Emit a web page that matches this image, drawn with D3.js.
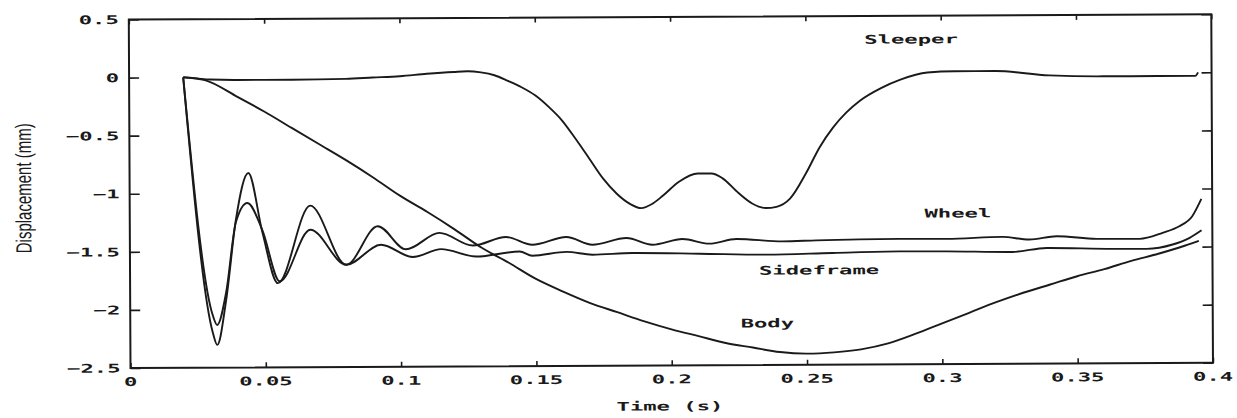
<!DOCTYPE html>
<html lang="en">
<head>
<meta charset="UTF-8">
<title>Displacement vs time</title>
<script src="https://cdnjs.cloudflare.com/ajax/libs/d3/7.9.0/d3.min.js"></script>
<style>
  body { margin: 0; background: #fff; }
  svg { display: block; }
  .lbl { font-family: "DejaVu Sans Mono", monospace; font-weight: bold; font-size: 12px; fill: #1a1a1a; }
  .ylab { font-family: "Liberation Sans Narrow", "Liberation Sans", sans-serif; font-size: 22px; fill: #1a1a1a; }
</style>
</head>
<body>
<div id="chart"></div>
<script>
// time (s), displacement (mm)
const sleeper = [[0.02,0],[0.025,-0.01],[0.03,-0.02],[0.04,-0.025],[0.06,-0.025],[0.08,-0.02],[0.09,-0.01],
  [0.1,0.0],[0.11,0.02],[0.12,0.035],[0.125,0.04],[0.13,0.03],[0.135,0.005],[0.14,-0.045],[0.145,-0.1],
  [0.15,-0.17],[0.155,-0.27],[0.16,-0.39],[0.165,-0.55],[0.17,-0.72],[0.175,-0.89],[0.18,-1.02],
  [0.185,-1.11],[0.189,-1.145],[0.193,-1.11],[0.197,-1.04],[0.203,-0.92],[0.21,-0.85],[0.215,-0.85],
  [0.219,-0.89],[0.225,-1.02],[0.23,-1.11],[0.235,-1.15],[0.239,-1.14],[0.244,-1.07],[0.25,-0.85],
  [0.255,-0.63],[0.26,-0.46],[0.265,-0.33],[0.27,-0.23],[0.278,-0.12],[0.285,-0.05],[0.295,0.01],
  [0.305,0.02],[0.32,0.02],[0.34,-0.02],[0.36,-0.03],[0.38,-0.03],[0.394,-0.03],[0.395,0.0]];

const wheel = [[0.02,0],[0.0305,-2.2],[0.0321,-2.305],[0.0355,-1.915],[0.0392,-1.23],[0.0439,-0.826],
  [0.049,-1.34],[0.0546,-1.776],[0.0667,-1.11],[0.0799,-1.62],[0.0916,-1.29],[0.102,-1.49],
  [0.1144,-1.35],[0.1267,-1.46],[0.139,-1.388],[0.1487,-1.456],[0.1613,-1.391],[0.1709,-1.458],
  [0.1835,-1.402],[0.1931,-1.461],[0.2042,-1.413],[0.2141,-1.454],[0.2241,-1.415],[0.2411,-1.437],
  [0.2537,-1.43],[0.2659,-1.425],[0.2844,-1.421],[0.3018,-1.423],[0.3224,-1.408],[0.3324,-1.432],
  [0.3424,-1.405],[0.3572,-1.429],[0.3731,-1.431],[0.3816,-1.38],[0.3878,-1.324],[0.3926,-1.238],
  [0.396,-1.09]];

const sideframe = [[0.02,0],[0.0305,-2.05],[0.0321,-2.133],[0.0355,-1.85],[0.0392,-1.25],[0.0435,-1.085],
  [0.049,-1.32],[0.0553,-1.76],[0.0667,-1.317],[0.0799,-1.62],[0.0928,-1.45],[0.1045,-1.557],
  [0.115,-1.49],[0.128,-1.555],[0.144,-1.513],[0.1487,-1.55],[0.1613,-1.519],[0.1709,-1.544],
  [0.1857,-1.531],[0.2105,-1.54],[0.2352,-1.551],[0.2596,-1.539],[0.2844,-1.528],[0.3018,-1.53],
  [0.3261,-1.538],[0.3387,-1.505],[0.3631,-1.516],[0.3757,-1.517],[0.3853,-1.481],[0.3916,-1.424],
  [0.396,-1.36]];

const body = [[0.02,0],[0.028,-0.025],[0.04,-0.17],[0.05,-0.3],[0.06,-0.44],[0.07,-0.58],[0.08,-0.72],
  [0.09,-0.87],[0.1,-1.03],[0.11,-1.17],[0.12,-1.32],[0.13,-1.48],[0.14,-1.61],[0.15,-1.75],
  [0.16,-1.86],[0.17,-1.96],[0.18,-2.04],[0.19,-2.12],[0.2,-2.19],[0.21,-2.25],[0.22,-2.31],
  [0.23,-2.35],[0.24,-2.39],[0.25,-2.405],[0.26,-2.395],[0.27,-2.37],[0.28,-2.32],[0.29,-2.24],
  [0.3,-2.15],[0.31,-2.06],[0.32,-1.97],[0.33,-1.89],[0.34,-1.82],[0.35,-1.75],[0.36,-1.69],
  [0.37,-1.62],[0.38,-1.56],[0.39,-1.49],[0.395,-1.45]];

const xTicks = [0, 0.05, 0.1, 0.15, 0.2, 0.25, 0.3, 0.35, 0.4];
const xTickLabels = ['0', '0.05', '0.1', '0.15', '0.2', '0.25', '0.3', '0.35', '0.4'];
const yTicks = [0.5, 0, -0.5, -1, -1.5, -2, -2.5];
const yTickLabels = ['0.5', '0', '\u22120.5', '\u22121', '\u22121.5', '\u22122', '\u22122.5'];

const curveLabels = [
  { text: 'Sleeper', t: 0.289, v: 0.30 },
  { text: 'Wheel', t: 0.306, v: -1.2 },
  { text: 'Sideframe', t: 0.2546, v: -1.684 },
  { text: 'Body', t: 0.2354, v: -2.138 }
];

const W = 1237, H = 418;
const plotL = 130.5, plotR = 1213, plotT = 19.5, plotB = 368;
const stretch = 1.85;

const svg = d3.select('#chart').append('svg')
  .attr('width', W).attr('height', H);

// the scanned figure is tilted a little
const g = svg.append('g')
  .attr('transform', `rotate(-0.28, ${plotL}, ${plotB})`);

const x = d3.scaleLinear().domain([0, 0.4]).range([plotL, plotR]);
const y = d3.scaleLinear().domain([-2.5, 0.5]).range([plotB, plotT]);

// ticks, pointing in
g.append('g').attr('transform', `translate(${plotL},0)`)
  .call(d3.axisLeft(y).tickValues(yTicks).tickSize(-10).tickSizeOuter(0).tickFormat(''))
  .call(a => a.select('.domain').remove());
g.append('g').attr('transform', `translate(${plotR},0)`)
  .call(d3.axisRight(y).tickValues(yTicks).tickSize(-10).tickSizeOuter(0).tickFormat(''))
  .call(a => a.select('.domain').remove());
g.append('g').attr('transform', `translate(0,${plotB})`)
  .call(d3.axisBottom(x).tickValues(xTicks).tickSize(-5).tickSizeOuter(0).tickFormat(''))
  .call(a => a.select('.domain').remove());
g.append('g').attr('transform', `translate(0,${plotT})`)
  .call(d3.axisTop(x).tickValues(xTicks).tickSize(-5).tickSizeOuter(0).tickFormat(''))
  .call(a => a.select('.domain').remove());
g.selectAll('.tick line').attr('stroke', '#1a1a1a').attr('stroke-width', 1.6);

g.append('rect')
  .attr('x', plotL).attr('y', plotT)
  .attr('width', plotR - plotL).attr('height', plotB - plotT)
  .attr('fill', 'none').attr('stroke', '#1a1a1a').attr('stroke-width', 2);

// tick labels
g.selectAll('.xl').data(xTicks).enter().append('text')
  .attr('class', 'lbl')
  .attr('text-anchor', 'middle')
  .attr('transform', d => `translate(${x(d)},${plotB + 18}) scale(${stretch},1)`)
  .text((d, i) => xTickLabels[i]);

g.selectAll('.yl').data(yTicks).enter().append('text')
  .attr('class', 'lbl')
  .attr('text-anchor', 'end')
  .attr('transform', d => `translate(${plotL - 10},${y(d) + 4.5}) scale(${stretch},1)`)
  .text((d, i) => yTickLabels[i]);

// curves
const line = d3.line()
  .x(d => x(d[0]))
  .y(d => y(d[1]))
  .curve(d3.curveMonotoneX);

[sleeper, wheel, sideframe, body].forEach(series => {
  g.append('path')
    .datum(series)
    .attr('d', line)
    .attr('fill', 'none')
    .attr('stroke', '#1a1a1a')
    .attr('stroke-width', 1.9)
    .attr('stroke-linejoin', 'round');
});

g.selectAll('.cl').data(curveLabels).enter().append('text')
  .attr('class', 'lbl')
  .attr('text-anchor', 'middle')
  .attr('transform', d => `translate(${x(d.t)},${y(d.v) + 4.5}) scale(${stretch},1)`)
  .text(d => d.text);

// axis titles
g.append('text')
  .attr('class', 'lbl')
  .attr('text-anchor', 'middle')
  .attr('transform', `translate(${(plotL + plotR) / 2 - 2},${plotB + 45}) scale(${stretch},1)`)
  .text('Time (s)');

g.append('text')
  .attr('class', 'ylab')
  .attr('text-anchor', 'middle')
  .attr('transform', `translate(32,${(plotT + plotB) / 2 - 6}) rotate(-90)`)
  .attr('textLength', 130)
  .attr('lengthAdjust', 'spacingAndGlyphs')
  .text('Displacement (mm)');
</script>
</body>
</html>
